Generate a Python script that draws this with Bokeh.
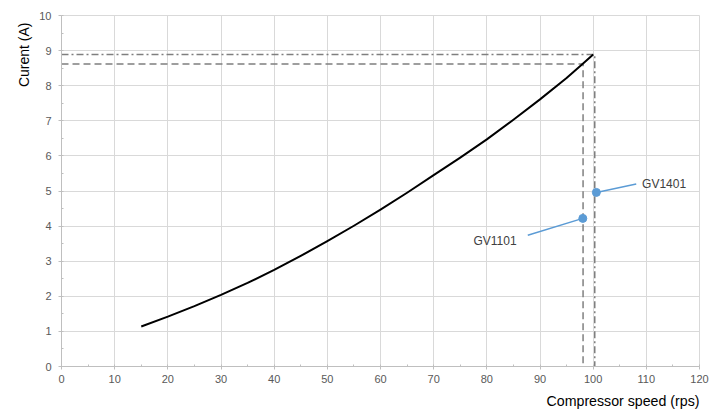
from bokeh.plotting import figure
from bokeh.models import Range1d, SingleIntervalTicker, Title, ColumnDataSource
from bokeh.core.properties import value
from bokeh.embed import file_html
from bokeh.resources import INLINE

# Curve: current vs compressor speed
speed = [15, 20, 25, 30, 35, 40, 45, 50, 55, 60, 65, 70, 75, 80, 85, 90, 95, 98, 100]
current = [1.14, 1.42, 1.72, 2.04, 2.38, 2.75, 3.15, 3.57, 4.01, 4.47, 4.95, 5.45, 5.95,
           6.47, 7.03, 7.61, 8.22, 8.62, 8.89]

# Reference guides
dash_x = 98.1
dash_y = 8.62
dashdot_x = 100.3
dashdot_y = 8.89

# Measured points
pt_names = ["GV1101", "GV1401"]
pt_x = [98.05, 100.6]
pt_y = [4.22, 4.96]
# leader line ends and label anchors
lead_x = [87.7, 108.1]
lead_y = [3.74, 5.20]
lab_x = [85.6, 109.2]
lab_y = [3.57, 5.21]
lab_align = ["right", "left"]

FONT = "Liberation Sans"

p = figure(width=718, height=413, output_backend="svg", toolbar_location=None,
           x_range=Range1d(0, 120), y_range=Range1d(0, 10),
           min_border_left=61, min_border_right=19, min_border_top=15, min_border_bottom=10)
p.background_fill_color = "white"
p.border_fill_color = "white"
p.outline_line_color = "#d9d9d9"

p.xaxis.ticker = SingleIntervalTicker(interval=10, num_minor_ticks=2)
p.yaxis.ticker = SingleIntervalTicker(interval=1, num_minor_ticks=2)
for ax in (p.xaxis, p.yaxis):
    ax.axis_line_color = "#bfbfbf"
    ax.major_tick_line_color = "#bfbfbf"
    ax.minor_tick_line_color = "#bfbfbf"
    ax.major_tick_out = 3
    ax.major_tick_in = 0
    ax.minor_tick_out = 0
    ax.minor_tick_in = 2
    ax.major_label_text_font = FONT
    ax.major_label_text_font_size = "11px"
    ax.major_label_text_color = "#595959"
p.xaxis.major_label_standoff = 5
p.yaxis.major_label_standoff = 7

p.xgrid.grid_line_color = "#d9d9d9"
p.ygrid.grid_line_color = "#d9d9d9"

p.add_layout(Title(text="Compressor speed (rps)", align="right", text_font=FONT,
                   text_font_size="14.2px", text_font_style="normal", text_color="#000000"), "below")
p.add_layout(Title(text="Curent (A)", align="right", text_font=FONT, offset=7,
                   text_font_size="14px", text_font_style="normal", text_color="#000000"), "left")

# guide lines
p.line([0, dash_x, dash_x], [dash_y, dash_y, 0], line_color="#7f7f7f", line_width=1.5, line_dash="7 4")
p.line([0, dashdot_x, dashdot_x], [dashdot_y, dashdot_y, 0], line_color="#7f7f7f", line_width=1.5,
       line_dash="7 3 2 3")

# curve
p.line(speed, current, line_color="black", line_width=2, line_join="round")

# leader lines and points
for i in range(len(pt_x)):
    p.line([pt_x[i], lead_x[i]], [pt_y[i], lead_y[i]], line_color="#5b9bd5", line_width=1.5)
p.scatter(pt_x, pt_y, size=8, fill_color="#5b9bd5", line_color="#5b9bd5")

src = ColumnDataSource(dict(x=lab_x, y=lab_y, t=pt_names, a=lab_align))
p.text(x="x", y="y", text="t", text_align="a", text_baseline="middle", source=src,
       text_font=value(FONT), text_font_size="12px", text_color="#404040")

open("out.html", "w").write(file_html(p, INLINE))
